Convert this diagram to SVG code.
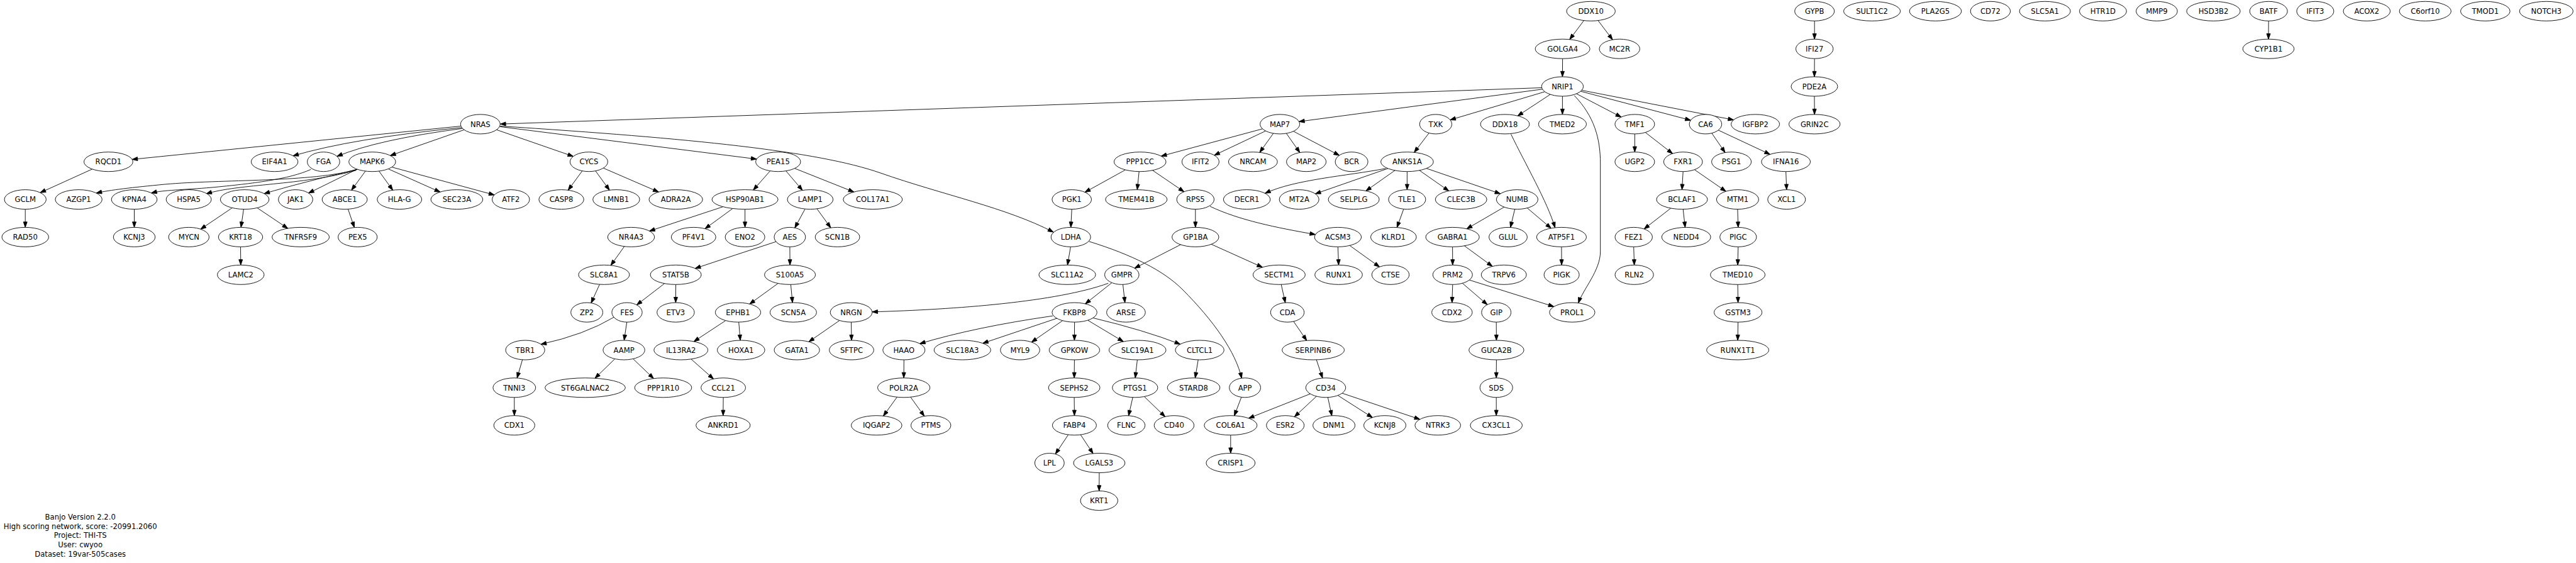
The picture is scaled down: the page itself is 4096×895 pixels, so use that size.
<svg xmlns="http://www.w3.org/2000/svg" width="4096" height="895" viewBox="0 0 4096 895">
<style>
.n{fill:#fff;stroke:#000;stroke-width:0.9}
text{font-family:"DejaVu Sans",sans-serif;font-size:11.6px;text-anchor:middle;fill:#000}
.e{fill:none;stroke:#000;stroke-width:0.9;marker-end:url(#a)}
</style>
<defs>
<marker id="a" markerUnits="userSpaceOnUse" markerWidth="10" markerHeight="8" refX="8.6" refY="3" orient="auto" overflow="visible">
<path d="M0,0 L8.6,3 L0,6 z" fill="#000" stroke="#000" stroke-width="0.9"/>
</marker>
</defs>
<rect width="4096" height="895" fill="#fff"/>
<g id="edges">
<path class="e" d="M2518.5,32.6 L2495.9,62.7"/>
<path class="e" d="M2541,32.6 L2564.1,63.1"/>
<path class="e" d="M2484.6,93.2 L2484.4,122"/>
<path class="e" d="M2451.1,139.5 L795.5,197.2"/>
<path class="e" d="M2452.5,141.8 L2065.5,193.3"/>
<path class="e" d="M2456.4,145.8 L2305.9,190.6"/>
<path class="e" d="M2465.1,150.1 L2413.2,184.2"/>
<path class="e" d="M2484.4,153 L2484.4,181.9"/>
<path class="e" d="M2506.6,149 L2577.8,186.1"/>
<path class="e" d="M2513.3,145.1 L2688.3,191.2"/>
<path class="e" d="M2515,143.5 L2756.5,190.6"/>
<path class="e" d="M2503.2,151.8 C2535,185 2544.7,220 2544.7,260 L2544.7,400 C2544.7,430 2517,460 2509.8,481.7"/>
<path class="e" d="M732.9,200.5 L210.1,253.4"/>
<path class="e" d="M734.3,202.8 Q560,220 466,247.7"/>
<path class="e" d="M735.5,204.2 Q600,222 535.9,248.6"/>
<path class="e" d="M738.1,206.3 L620.5,247.3"/>
<path class="e" d="M789.6,206.3 L911.5,248.6"/>
<path class="e" d="M794.3,201.3 L1203,252.9"/>
<path class="e" d="M795.7,200.5 C1100,220 1300,240 1400,275 C1500,310 1600,330 1675,369"/>
<path class="e" d="M146.7,268.8 L64,306.3"/>
<path class="e" d="M40.2,332.6 L40.2,361.4"/>
<path class="e" d="M566.5,269.3 C500,290 350,285 262,293 C210,298 175,302 153.1,306.9"/>
<path class="e" d="M494.3,269.3 C460,285 400,292 337,298 C290,302 260,302 240.6,306.8"/>
<path class="e" d="M566.5,270.7 C480,295 380,292 328,308"/>
<path class="e" d="M568.7,269.3 Q480,290 420,307.8"/>
<path class="e" d="M567.8,269 L490.6,307"/>
<path class="e" d="M581.1,272 L558.9,302.3"/>
<path class="e" d="M602.6,272 L624.5,302.3"/>
<path class="e" d="M617.3,268.5 L699.8,305.3"/>
<path class="e" d="M623.1,265.7 L786,309.9"/>
<path class="e" d="M213.5,332.6 L213.5,361.4"/>
<path class="e" d="M369.3,330.4 L319,364.3"/>
<path class="e" d="M387.4,332.6 L383.2,361.4"/>
<path class="e" d="M408.9,330.4 L457.6,363.1"/>
<path class="e" d="M382.5,392.4 L382.8,421.3"/>
<path class="e" d="M553.4,332.4 L563.4,361.6"/>
<path class="e" d="M925.8,271.7 L903.4,302.3"/>
<path class="e" d="M946.9,271.7 L969.1,302.3"/>
<path class="e" d="M959.4,267.2 L1047.2,305.2"/>
<path class="e" d="M1224.6,271.7 L1197.8,302.1"/>
<path class="e" d="M1249.7,271.7 L1275.9,302.5"/>
<path class="e" d="M1263.6,267.7 L1357.8,305.2"/>
<path class="e" d="M1149.6,328.7 L1032.6,367.3"/>
<path class="e" d="M1165,331.5 L1121,363.6"/>
<path class="e" d="M1184.6,332.6 L1184.6,361.4"/>
<path class="e" d="M1280.1,332.2 L1263.8,362.2"/>
<path class="e" d="M1299,331.9 L1320.9,362.1"/>
<path class="e" d="M992.8,391.7 L971.2,421.9"/>
<path class="e" d="M1233.9,384.2 Q1170,405 1105.3,426.7"/>
<path class="e" d="M1255.9,392.4 L1256.1,421.3"/>
<path class="e" d="M953.4,452.1 L939.9,481.7"/>
<path class="e" d="M1056.6,450.7 L1012.4,484.7"/>
<path class="e" d="M1074.6,452.3 L1074.4,481.1"/>
<path class="e" d="M1237.2,450.5 L1191.9,483.3"/>
<path class="e" d="M1257.4,452.3 L1260.1,481.1"/>
<path class="e" d="M976.1,504.3 Q930,532 860.1,547.3"/>
<path class="e" d="M996.7,512.1 L992.4,541"/>
<path class="e" d="M1153.8,509.6 L1103.3,542.9"/>
<path class="e" d="M1174.7,512.1 L1177.1,541"/>
<path class="e" d="M1334.9,509.5 L1286.1,543.3"/>
<path class="e" d="M1353.5,512.1 L1354,541"/>
<path class="e" d="M830.7,571.8 L822.2,600.9"/>
<path class="e" d="M817.8,631.8 L817.8,660.7"/>
<path class="e" d="M977.7,570.5 L946,601.3"/>
<path class="e" d="M1006.6,570.4 L1039.3,601.7"/>
<path class="e" d="M1098.9,570.8 L1134.5,602.4"/>
<path class="e" d="M1150.1,631.8 L1149.8,660.7"/>
<path class="e" d="M2007.5,204.8 L1846.3,248.2"/>
<path class="e" d="M2012.4,208.2 L1930.8,246.8"/>
<path class="e" d="M2024.7,212 L2003,242.3"/>
<path class="e" d="M2045.4,212.1 L2066.8,242.5"/>
<path class="e" d="M2056.6,208.7 L2129.6,247"/>
<path class="e" d="M1789.5,270 L1725.1,305.6"/>
<path class="e" d="M1811.2,272.7 L1808.3,301.6"/>
<path class="e" d="M1832.7,270.8 L1882.7,304.8"/>
<path class="e" d="M1704.2,332.6 L1702.7,361.4"/>
<path class="e" d="M1702.3,392.4 L1697.4,421.3"/>
<path class="e" d="M1731.5,383.8 C1800,405 1850,430 1880,460 C1930,510 1965,560 1974.3,601.3"/>
<path class="e" d="M1900.8,332.6 L1900.8,361.4"/>
<path class="e" d="M1924,328 C1970,350 2030,362 2091.5,372.8"/>
<path class="e" d="M1877.3,388.9 L1804.1,426.4"/>
<path class="e" d="M1926.1,388.3 L2007.4,424.9"/>
<path class="e" d="M1762.2,450.3 C1680,480 1520,492 1386.8,495.8"/>
<path class="e" d="M1768,449.4 L1725.7,483"/>
<path class="e" d="M1785.5,452.3 L1788.7,481.1"/>
<path class="e" d="M1673.8,502.2 Q1550,520 1462.5,546.3"/>
<path class="e" d="M1680.4,506.1 L1562.6,545.7"/>
<path class="e" d="M1689.6,509.7 L1640.2,543.9"/>
<path class="e" d="M1708.6,512.1 L1708.4,541"/>
<path class="e" d="M1729.6,509.1 L1786.2,543"/>
<path class="e" d="M1737.9,505.4 Q1820,525 1876.7,547.2"/>
<path class="e" d="M1437.3,572 L1437.1,600.8"/>
<path class="e" d="M1426.3,631.3 L1404.6,661.3"/>
<path class="e" d="M1447.9,631.3 L1469.7,661.6"/>
<path class="e" d="M1708.4,572 L1708.1,600.8"/>
<path class="e" d="M1708.1,631.8 L1708.4,660.7"/>
<path class="e" d="M1698.6,691.1 L1678.2,721.8"/>
<path class="e" d="M1718.2,691.1 L1738,721"/>
<path class="e" d="M1747.9,751.5 L1747.7,780.4"/>
<path class="e" d="M1808.4,572 L1805.1,600.8"/>
<path class="e" d="M1801.2,631.6 L1794.5,661"/>
<path class="e" d="M1819.5,630.5 L1852.6,662.4"/>
<path class="e" d="M1905.2,572 L1900.4,600.8"/>
<path class="e" d="M1973.9,631.4 L1962.6,660.9"/>
<path class="e" d="M2083.4,626.1 L1985.4,664.9"/>
<path class="e" d="M1956.8,691.7 L1956.8,720.5"/>
<path class="e" d="M2037.2,452.2 L2043.7,481.2"/>
<path class="e" d="M2056.9,511 L2077.7,541.3"/>
<path class="e" d="M2093.1,571.6 L2102.9,601"/>
<path class="e" d="M2093.3,630 L2058.3,662.6"/>
<path class="e" d="M2111.3,631.5 L2117.7,661"/>
<path class="e" d="M2127.3,628.6 L2182.3,663.7"/>
<path class="e" d="M2134.1,625.1 L2257.7,666.6"/>
<path class="e" d="M2272.2,211.5 L2248.7,242.3"/>
<path class="e" d="M2203.5,267.8 C2140,280 2060,285 2011.5,307.3"/>
<path class="e" d="M2207,267.8 L2091.4,308.1"/>
<path class="e" d="M2218,270.9 L2171.9,303.5"/>
<path class="e" d="M2237.4,272.7 L2237.4,301.6"/>
<path class="e" d="M2257,270.9 L2303.7,303.5"/>
<path class="e" d="M2268.1,267.7 L2385.7,308"/>
<path class="e" d="M2231.9,332.3 L2221.3,361.6"/>
<path class="e" d="M2127.4,392.4 L2128.5,421.3"/>
<path class="e" d="M2146.1,390.3 L2193.5,424.3"/>
<path class="e" d="M2391.7,329.2 L2332.2,363.8"/>
<path class="e" d="M2408.7,332.3 L2401.7,361.6"/>
<path class="e" d="M2428.4,330.7 L2466.3,362.8"/>
<path class="e" d="M2402.6,213.4 C2425,260 2460,320 2472.6,361.9"/>
<path class="e" d="M2482.9,392.4 L2483.1,421.3"/>
<path class="e" d="M2309.6,392.4 L2309.8,421.3"/>
<path class="e" d="M2328.5,390.8 L2373,423.4"/>
<path class="e" d="M2309.8,452.3 L2308.8,481.1"/>
<path class="e" d="M2325.4,450.3 L2364.9,484.3"/>
<path class="e" d="M2336.3,445.1 L2470.8,487.4"/>
<path class="e" d="M2379.2,512.1 L2379.4,541"/>
<path class="e" d="M2379.4,572 L2379.2,600.8"/>
<path class="e" d="M2379.2,631.8 L2379.2,660.7"/>
<path class="e" d="M2599.4,212.9 L2599.4,241.7"/>
<path class="e" d="M2616.2,210.5 L2659.5,244.2"/>
<path class="e" d="M2676.2,272.7 L2674.5,301.6"/>
<path class="e" d="M2694.3,269.7 L2744.3,304.2"/>
<path class="e" d="M2656.7,331 L2614.2,364"/>
<path class="e" d="M2676.2,332.6 L2679.5,361.4"/>
<path class="e" d="M2597.7,392.4 L2598.6,421.3"/>
<path class="e" d="M2762.9,332.6 L2763.8,361.4"/>
<path class="e" d="M2763.8,392.4 L2763.1,421.3"/>
<path class="e" d="M2763.1,452.3 L2763.6,481.1"/>
<path class="e" d="M2763.6,512.1 L2763.1,541"/>
<path class="e" d="M2721.8,211.7 L2743,242.5"/>
<path class="e" d="M2732.2,206.9 L2814.5,245.4"/>
<path class="e" d="M2839.7,272.7 L2840.8,301.6"/>
<path class="e" d="M2885.2,33.3 L2885.2,62.2"/>
<path class="e" d="M2885.2,93.2 L2885,122"/>
<path class="e" d="M2885,153 L2885.2,181.9"/>
<path class="e" d="M3607.2,33.3 L3607,62.2"/>
</g>
<g id="n-DDX10"><ellipse class="n" cx="2529.7" cy="17.8" rx="38.7" ry="15.5"/><text x="2529.7" y="22">DDX10</text></g>
<g id="n-GYPB"><ellipse class="n" cx="2885.2" cy="17.8" rx="31.5" ry="15.5"/><text x="2885.2" y="22">GYPB</text></g>
<g id="n-SULT1C2"><ellipse class="n" cx="2976.6" cy="17.8" rx="45.1" ry="15.5"/><text x="2976.6" y="22">SULT1C2</text></g>
<g id="n-PLA2G5"><ellipse class="n" cx="3077.5" cy="17.8" rx="41.3" ry="15.5"/><text x="3077.5" y="22">PLA2G5</text></g>
<g id="n-CD72"><ellipse class="n" cx="3164.9" cy="17.8" rx="31.7" ry="15.5"/><text x="3164.9" y="22">CD72</text></g>
<g id="n-SLC5A1"><ellipse class="n" cx="3251.6" cy="17.8" rx="40.5" ry="15.5"/><text x="3251.6" y="22">SLC5A1</text></g>
<g id="n-HTR1D"><ellipse class="n" cx="3343.9" cy="17.8" rx="37.4" ry="15.5"/><text x="3343.9" y="22">HTR1D</text></g>
<g id="n-MMP9"><ellipse class="n" cx="3429.4" cy="17.8" rx="32.8" ry="15.5"/><text x="3429.4" y="22">MMP9</text></g>
<g id="n-HSD3B2"><ellipse class="n" cx="3519.5" cy="17.8" rx="42.6" ry="15.5"/><text x="3519.5" y="22">HSD3B2</text></g>
<g id="n-BATF"><ellipse class="n" cx="3607.2" cy="17.8" rx="30" ry="15.5"/><text x="3607.2" y="22">BATF</text></g>
<g id="n-IFIT3"><ellipse class="n" cx="3681.4" cy="17.8" rx="29.5" ry="15.5"/><text x="3681.4" y="22">IFIT3</text></g>
<g id="n-ACOX2"><ellipse class="n" cx="3763.3" cy="17.8" rx="37.3" ry="15.5"/><text x="3763.3" y="22">ACOX2</text></g>
<g id="n-C6orf10"><ellipse class="n" cx="3856.3" cy="17.8" rx="41.1" ry="15.5"/><text x="3856.3" y="22">C6orf10</text></g>
<g id="n-TMOD1"><ellipse class="n" cx="3951.8" cy="17.8" rx="39.3" ry="15.5"/><text x="3951.8" y="22">TMOD1</text></g>
<g id="n-NOTCH3"><ellipse class="n" cx="4048.8" cy="17.8" rx="42.6" ry="15.5"/><text x="4048.8" y="22">NOTCH3</text></g>
<g id="n-GOLGA4"><ellipse class="n" cx="2484.6" cy="77.7" rx="43.5" ry="15.5"/><text x="2484.6" y="81.9">GOLGA4</text></g>
<g id="n-MC2R"><ellipse class="n" cx="2575.2" cy="77.7" rx="32.2" ry="15.5"/><text x="2575.2" y="81.9">MC2R</text></g>
<g id="n-IFI27"><ellipse class="n" cx="2885.2" cy="77.7" rx="29.7" ry="15.5"/><text x="2885.2" y="81.9">IFI27</text></g>
<g id="n-CYP1B1"><ellipse class="n" cx="3607" cy="77.7" rx="40.8" ry="15.5"/><text x="3607" y="81.9">CYP1B1</text></g>
<g id="n-NRIP1"><ellipse class="n" cx="2484.4" cy="137.5" rx="33.2" ry="15.5"/><text x="2484.4" y="141.7">NRIP1</text></g>
<g id="n-PDE2A"><ellipse class="n" cx="2885" cy="137.5" rx="37" ry="15.5"/><text x="2885" y="141.7">PDE2A</text></g>
<g id="n-NRAS"><ellipse class="n" cx="763.8" cy="197.4" rx="31.5" ry="15.5"/><text x="763.8" y="201.6">NRAS</text></g>
<g id="n-MAP7"><ellipse class="n" cx="2035.1" cy="197.4" rx="31.5" ry="15.5"/><text x="2035.1" y="201.6">MAP7</text></g>
<g id="n-TXK"><ellipse class="n" cx="2282.9" cy="197.4" rx="25.6" ry="15.5"/><text x="2282.9" y="201.6">TXK</text></g>
<g id="n-DDX18"><ellipse class="n" cx="2393" cy="197.4" rx="38.9" ry="15.5"/><text x="2393" y="201.6">DDX18</text></g>
<g id="n-TMED2"><ellipse class="n" cx="2484.4" cy="197.4" rx="38.1" ry="15.5"/><text x="2484.4" y="201.6">TMED2</text></g>
<g id="n-TMF1"><ellipse class="n" cx="2599.4" cy="197.4" rx="31.5" ry="15.5"/><text x="2599.4" y="201.6">TMF1</text></g>
<g id="n-CA6"><ellipse class="n" cx="2711.9" cy="197.4" rx="25.8" ry="15.5"/><text x="2711.9" y="201.6">CA6</text></g>
<g id="n-IGFBP2"><ellipse class="n" cx="2791.1" cy="197.4" rx="38.5" ry="15.5"/><text x="2791.1" y="201.6">IGFBP2</text></g>
<g id="n-GRIN2C"><ellipse class="n" cx="2885.2" cy="197.4" rx="40.7" ry="15.5"/><text x="2885.2" y="201.6">GRIN2C</text></g>
<g id="n-RQCD1"><ellipse class="n" cx="172.4" cy="257.2" rx="38.9" ry="15.5"/><text x="172.4" y="261.4">RQCD1</text></g>
<g id="n-EIF4A1"><ellipse class="n" cx="436.6" cy="257.2" rx="37.2" ry="15.5"/><text x="436.6" y="261.4">EIF4A1</text></g>
<g id="n-FGA"><ellipse class="n" cx="514.4" cy="257.2" rx="25.8" ry="15.5"/><text x="514.4" y="261.4">FGA</text></g>
<g id="n-MAPK6"><ellipse class="n" cx="591.9" cy="257.2" rx="37.2" ry="15.5"/><text x="591.9" y="261.4">MAPK6</text></g>
<g id="n-CYCS"><ellipse class="n" cx="936.4" cy="257.2" rx="30" ry="15.5"/><text x="936.4" y="261.4">CYCS</text></g>
<g id="n-PEA15"><ellipse class="n" cx="1237.3" cy="257.2" rx="35.7" ry="15.5"/><text x="1237.3" y="261.4">PEA15</text></g>
<g id="n-PPP1CC"><ellipse class="n" cx="1812.7" cy="257.2" rx="41.3" ry="15.5"/><text x="1812.7" y="261.4">PPP1CC</text></g>
<g id="n-IFIT2"><ellipse class="n" cx="1908.9" cy="257.2" rx="29.5" ry="15.5"/><text x="1908.9" y="261.4">IFIT2</text></g>
<g id="n-NRCAM"><ellipse class="n" cx="1992.3" cy="257.2" rx="38.9" ry="15.5"/><text x="1992.3" y="261.4">NRCAM</text></g>
<g id="n-MAP2"><ellipse class="n" cx="2077.1" cy="257.2" rx="31.5" ry="15.5"/><text x="2077.1" y="261.4">MAP2</text></g>
<g id="n-BCR"><ellipse class="n" cx="2149.1" cy="257.2" rx="26" ry="15.5"/><text x="2149.1" y="261.4">BCR</text></g>
<g id="n-ANKS1A"><ellipse class="n" cx="2237.4" cy="257.2" rx="41.8" ry="15.5"/><text x="2237.4" y="261.4">ANKS1A</text></g>
<g id="n-UGP2"><ellipse class="n" cx="2599.4" cy="257.2" rx="31.5" ry="15.5"/><text x="2599.4" y="261.4">UGP2</text></g>
<g id="n-FXR1"><ellipse class="n" cx="2676.2" cy="257.2" rx="30.8" ry="15.5"/><text x="2676.2" y="261.4">FXR1</text></g>
<g id="n-PSG1"><ellipse class="n" cx="2753.1" cy="257.2" rx="31.5" ry="15.5"/><text x="2753.1" y="261.4">PSG1</text></g>
<g id="n-IFNA16"><ellipse class="n" cx="2839.7" cy="257.2" rx="38.9" ry="15.5"/><text x="2839.7" y="261.4">IFNA16</text></g>
<g id="n-GCLM"><ellipse class="n" cx="40.2" cy="317.1" rx="33.2" ry="15.5"/><text x="40.2" y="321.3">GCLM</text></g>
<g id="n-AZGP1"><ellipse class="n" cx="125.1" cy="317.1" rx="37.2" ry="15.5"/><text x="125.1" y="321.3">AZGP1</text></g>
<g id="n-KPNA4"><ellipse class="n" cx="213.5" cy="317.1" rx="36.3" ry="15.5"/><text x="213.5" y="321.3">KPNA4</text></g>
<g id="n-HSPA5"><ellipse class="n" cx="300.1" cy="317.1" rx="35.9" ry="15.5"/><text x="300.1" y="321.3">HSPA5</text></g>
<g id="n-OTUD4"><ellipse class="n" cx="389.1" cy="317.1" rx="38.7" ry="15.5"/><text x="389.1" y="321.3">OTUD4</text></g>
<g id="n-JAK1"><ellipse class="n" cx="470" cy="317.1" rx="27.3" ry="15.5"/><text x="470" y="321.3">JAK1</text></g>
<g id="n-ABCE1"><ellipse class="n" cx="548.1" cy="317.1" rx="35.9" ry="15.5"/><text x="548.1" y="321.3">ABCE1</text></g>
<g id="n-HLA-G"><ellipse class="n" cx="635.2" cy="317.1" rx="35.4" ry="15.5"/><text x="635.2" y="321.3">HLA-G</text></g>
<g id="n-SEC23A"><ellipse class="n" cx="726.4" cy="317.1" rx="41.3" ry="15.5"/><text x="726.4" y="321.3">SEC23A</text></g>
<g id="n-ATF2"><ellipse class="n" cx="812.3" cy="317.1" rx="29.7" ry="15.5"/><text x="812.3" y="321.3">ATF2</text></g>
<g id="n-CASP8"><ellipse class="n" cx="892.6" cy="317.1" rx="35.7" ry="15.5"/><text x="892.6" y="321.3">CASP8</text></g>
<g id="n-LMNB1"><ellipse class="n" cx="979.9" cy="317.1" rx="37.2" ry="15.5"/><text x="979.9" y="321.3">LMNB1</text></g>
<g id="n-ADRA2A"><ellipse class="n" cx="1074.6" cy="317.1" rx="42.6" ry="15.5"/><text x="1074.6" y="321.3">ADRA2A</text></g>
<g id="n-HSP90AB1"><ellipse class="n" cx="1184.6" cy="317.1" rx="52.5" ry="15.5"/><text x="1184.6" y="321.3">HSP90AB1</text></g>
<g id="n-LAMP1"><ellipse class="n" cx="1288.3" cy="317.1" rx="36.3" ry="15.5"/><text x="1288.3" y="321.3">LAMP1</text></g>
<g id="n-COL17A1"><ellipse class="n" cx="1387.8" cy="317.1" rx="47" ry="15.5"/><text x="1387.8" y="321.3">COL17A1</text></g>
<g id="n-PGK1"><ellipse class="n" cx="1704.2" cy="317.1" rx="31.3" ry="15.5"/><text x="1704.2" y="321.3">PGK1</text></g>
<g id="n-TMEM41B"><ellipse class="n" cx="1806.8" cy="317.1" rx="49" ry="15.5"/><text x="1806.8" y="321.3">TMEM41B</text></g>
<g id="n-RPS5"><ellipse class="n" cx="1900.8" cy="317.1" rx="29.7" ry="15.5"/><text x="1900.8" y="321.3">RPS5</text></g>
<g id="n-DECR1"><ellipse class="n" cx="1982.6" cy="317.1" rx="37.2" ry="15.5"/><text x="1982.6" y="321.3">DECR1</text></g>
<g id="n-MT2A"><ellipse class="n" cx="2065.7" cy="317.1" rx="31.5" ry="15.5"/><text x="2065.7" y="321.3">MT2A</text></g>
<g id="n-SELPLG"><ellipse class="n" cx="2152.6" cy="317.1" rx="40.5" ry="15.5"/><text x="2152.6" y="321.3">SELPLG</text></g>
<g id="n-TLE1"><ellipse class="n" cx="2237.4" cy="317.1" rx="29.5" ry="15.5"/><text x="2237.4" y="321.3">TLE1</text></g>
<g id="n-CLEC3B"><ellipse class="n" cx="2323.2" cy="317.1" rx="40.9" ry="15.5"/><text x="2323.2" y="321.3">CLEC3B</text></g>
<g id="n-NUMB"><ellipse class="n" cx="2412.4" cy="317.1" rx="33" ry="15.5"/><text x="2412.4" y="321.3">NUMB</text></g>
<g id="n-BCLAF1"><ellipse class="n" cx="2674.5" cy="317.1" rx="40.5" ry="15.5"/><text x="2674.5" y="321.3">BCLAF1</text></g>
<g id="n-MTM1"><ellipse class="n" cx="2762.9" cy="317.1" rx="33.5" ry="15.5"/><text x="2762.9" y="321.3">MTM1</text></g>
<g id="n-XCL1"><ellipse class="n" cx="2840.8" cy="317.1" rx="30" ry="15.5"/><text x="2840.8" y="321.3">XCL1</text></g>
<g id="n-RAD50"><ellipse class="n" cx="40.2" cy="376.9" rx="37.2" ry="15.5"/><text x="40.2" y="381.1">RAD50</text></g>
<g id="n-KCNJ3"><ellipse class="n" cx="213.5" cy="376.9" rx="33.2" ry="15.5"/><text x="213.5" y="381.1">KCNJ3</text></g>
<g id="n-MYCN"><ellipse class="n" cx="300.3" cy="376.9" rx="32.2" ry="15.5"/><text x="300.3" y="381.1">MYCN</text></g>
<g id="n-KRT18"><ellipse class="n" cx="382.5" cy="376.9" rx="35.2" ry="15.5"/><text x="382.5" y="381.1">KRT18</text></g>
<g id="n-TNFRSF9"><ellipse class="n" cx="478.1" cy="376.9" rx="45.5" ry="15.5"/><text x="478.1" y="381.1">TNFRSF9</text></g>
<g id="n-PEX5"><ellipse class="n" cx="568.7" cy="376.9" rx="31.1" ry="15.5"/><text x="568.7" y="381.1">PEX5</text></g>
<g id="n-NR4A3"><ellipse class="n" cx="1003.5" cy="376.9" rx="37.2" ry="15.5"/><text x="1003.5" y="381.1">NR4A3</text></g>
<g id="n-PF4V1"><ellipse class="n" cx="1102.8" cy="376.9" rx="35.4" ry="15.5"/><text x="1102.8" y="381.1">PF4V1</text></g>
<g id="n-ENO2"><ellipse class="n" cx="1184.6" cy="376.9" rx="31.5" ry="15.5"/><text x="1184.6" y="381.1">ENO2</text></g>
<g id="n-AES"><ellipse class="n" cx="1255.9" cy="376.9" rx="24.9" ry="15.5"/><text x="1255.9" y="381.1">AES</text></g>
<g id="n-SCN1B"><ellipse class="n" cx="1331.6" cy="376.9" rx="35.4" ry="15.5"/><text x="1331.6" y="381.1">SCN1B</text></g>
<g id="n-LDHA"><ellipse class="n" cx="1702.7" cy="376.9" rx="31.5" ry="15.5"/><text x="1702.7" y="381.1">LDHA</text></g>
<g id="n-GP1BA"><ellipse class="n" cx="1900.8" cy="376.9" rx="37.2" ry="15.5"/><text x="1900.8" y="381.1">GP1BA</text></g>
<g id="n-ACSM3"><ellipse class="n" cx="2127.4" cy="376.9" rx="37.2" ry="15.5"/><text x="2127.4" y="381.1">ACSM3</text></g>
<g id="n-KLRD1"><ellipse class="n" cx="2215.8" cy="376.9" rx="36.3" ry="15.5"/><text x="2215.8" y="381.1">KLRD1</text></g>
<g id="n-GABRA1"><ellipse class="n" cx="2309.6" cy="376.9" rx="42.6" ry="15.5"/><text x="2309.6" y="381.1">GABRA1</text></g>
<g id="n-GLUL"><ellipse class="n" cx="2398" cy="376.9" rx="30.4" ry="15.5"/><text x="2398" y="381.1">GLUL</text></g>
<g id="n-ATP5F1"><ellipse class="n" cx="2482.9" cy="376.9" rx="39.6" ry="15.5"/><text x="2482.9" y="381.1">ATP5F1</text></g>
<g id="n-FEZ1"><ellipse class="n" cx="2597.7" cy="376.9" rx="29.7" ry="15.5"/><text x="2597.7" y="381.1">FEZ1</text></g>
<g id="n-NEDD4"><ellipse class="n" cx="2681.2" cy="376.9" rx="38.9" ry="15.5"/><text x="2681.2" y="381.1">NEDD4</text></g>
<g id="n-PIGC"><ellipse class="n" cx="2763.8" cy="376.9" rx="29.1" ry="15.5"/><text x="2763.8" y="381.1">PIGC</text></g>
<g id="n-LAMC2"><ellipse class="n" cx="382.8" cy="436.8" rx="37.2" ry="15.5"/><text x="382.8" y="441">LAMC2</text></g>
<g id="n-SLC8A1"><ellipse class="n" cx="960.4" cy="436.8" rx="40.5" ry="15.5"/><text x="960.4" y="441">SLC8A1</text></g>
<g id="n-STAT5B"><ellipse class="n" cx="1074.6" cy="436.8" rx="40.5" ry="15.5"/><text x="1074.6" y="441">STAT5B</text></g>
<g id="n-S100A5"><ellipse class="n" cx="1256.1" cy="436.8" rx="40.5" ry="15.5"/><text x="1256.1" y="441">S100A5</text></g>
<g id="n-SLC11A2"><ellipse class="n" cx="1697" cy="436.8" rx="45.1" ry="15.5"/><text x="1697" y="441">SLC11A2</text></g>
<g id="n-GMPR"><ellipse class="n" cx="1783.8" cy="436.8" rx="27.3" ry="15.5"/><text x="1783.8" y="441">GMPR</text></g>
<g id="n-SECTM1"><ellipse class="n" cx="2033.9" cy="436.8" rx="41.5" ry="15.5"/><text x="2033.9" y="441">SECTM1</text></g>
<g id="n-RUNX1"><ellipse class="n" cx="2128.5" cy="436.8" rx="37.8" ry="15.5"/><text x="2128.5" y="441">RUNX1</text></g>
<g id="n-CTSE"><ellipse class="n" cx="2211" cy="436.8" rx="29.7" ry="15.5"/><text x="2211" y="441">CTSE</text></g>
<g id="n-PRM2"><ellipse class="n" cx="2309.8" cy="436.8" rx="31.5" ry="15.5"/><text x="2309.8" y="441">PRM2</text></g>
<g id="n-TRPV6"><ellipse class="n" cx="2391.2" cy="436.8" rx="35.9" ry="15.5"/><text x="2391.2" y="441">TRPV6</text></g>
<g id="n-PIGK"><ellipse class="n" cx="2483.1" cy="436.8" rx="28" ry="15.5"/><text x="2483.1" y="441">PIGK</text></g>
<g id="n-RLN2"><ellipse class="n" cx="2598.6" cy="436.8" rx="30.6" ry="15.5"/><text x="2598.6" y="441">RLN2</text></g>
<g id="n-TMED10"><ellipse class="n" cx="2763.1" cy="436.8" rx="43.5" ry="15.5"/><text x="2763.1" y="441">TMED10</text></g>
<g id="n-ZP2"><ellipse class="n" cx="933.1" cy="496.6" rx="25.4" ry="15.5"/><text x="933.1" y="500.8">ZP2</text></g>
<g id="n-FES"><ellipse class="n" cx="997" cy="496.6" rx="24.1" ry="15.5"/><text x="997" y="500.8">FES</text></g>
<g id="n-ETV3"><ellipse class="n" cx="1074.4" cy="496.6" rx="29.7" ry="15.5"/><text x="1074.4" y="500.8">ETV3</text></g>
<g id="n-EPHB1"><ellipse class="n" cx="1173.5" cy="496.6" rx="36.1" ry="15.5"/><text x="1173.5" y="500.8">EPHB1</text></g>
<g id="n-SCN5A"><ellipse class="n" cx="1261.4" cy="496.6" rx="37" ry="15.5"/><text x="1261.4" y="500.8">SCN5A</text></g>
<g id="n-NRGN"><ellipse class="n" cx="1353.5" cy="496.6" rx="33.3" ry="15.5"/><text x="1353.5" y="500.8">NRGN</text></g>
<g id="n-FKBP8"><ellipse class="n" cx="1708.6" cy="496.6" rx="35.7" ry="15.5"/><text x="1708.6" y="500.8">FKBP8</text></g>
<g id="n-ARSE"><ellipse class="n" cx="1790.4" cy="496.6" rx="30.8" ry="15.5"/><text x="1790.4" y="500.8">ARSE</text></g>
<g id="n-CDA"><ellipse class="n" cx="2047" cy="496.6" rx="26.7" ry="15.5"/><text x="2047" y="500.8">CDA</text></g>
<g id="n-CDX2"><ellipse class="n" cx="2308.8" cy="496.6" rx="32.2" ry="15.5"/><text x="2308.8" y="500.8">CDX2</text></g>
<g id="n-GIP"><ellipse class="n" cx="2379.2" cy="496.6" rx="23.4" ry="15.5"/><text x="2379.2" y="500.8">GIP</text></g>
<g id="n-PROL1"><ellipse class="n" cx="2499.9" cy="496.6" rx="36.1" ry="15.5"/><text x="2499.9" y="500.8">PROL1</text></g>
<g id="n-GSTM3"><ellipse class="n" cx="2763.6" cy="496.6" rx="38.1" ry="15.5"/><text x="2763.6" y="500.8">GSTM3</text></g>
<g id="n-TBR1"><ellipse class="n" cx="835.1" cy="556.5" rx="31.1" ry="15.5"/><text x="835.1" y="560.7">TBR1</text></g>
<g id="n-AAMP"><ellipse class="n" cx="992.1" cy="556.5" rx="33.2" ry="15.5"/><text x="992.1" y="560.7">AAMP</text></g>
<g id="n-IL13RA2"><ellipse class="n" cx="1082.7" cy="556.5" rx="42.9" ry="15.5"/><text x="1082.7" y="560.7">IL13RA2</text></g>
<g id="n-HOXA1"><ellipse class="n" cx="1178.3" cy="556.5" rx="37.8" ry="15.5"/><text x="1178.3" y="560.7">HOXA1</text></g>
<g id="n-GATA1"><ellipse class="n" cx="1267.1" cy="556.5" rx="36.1" ry="15.5"/><text x="1267.1" y="560.7">GATA1</text></g>
<g id="n-SFTPC"><ellipse class="n" cx="1354" cy="556.5" rx="35.4" ry="15.5"/><text x="1354" y="560.7">SFTPC</text></g>
<g id="n-HAAO"><ellipse class="n" cx="1437.3" cy="556.5" rx="33.5" ry="15.5"/><text x="1437.3" y="560.7">HAAO</text></g>
<g id="n-SLC18A3"><ellipse class="n" cx="1530.3" cy="556.5" rx="45.1" ry="15.5"/><text x="1530.3" y="560.7">SLC18A3</text></g>
<g id="n-MYL9"><ellipse class="n" cx="1622" cy="556.5" rx="31.3" ry="15.5"/><text x="1622" y="560.7">MYL9</text></g>
<g id="n-GPKOW"><ellipse class="n" cx="1708.4" cy="556.5" rx="40.2" ry="15.5"/><text x="1708.4" y="560.7">GPKOW</text></g>
<g id="n-SLC19A1"><ellipse class="n" cx="1808.7" cy="556.5" rx="45.3" ry="15.5"/><text x="1808.7" y="560.7">SLC19A1</text></g>
<g id="n-CLTCL1"><ellipse class="n" cx="1907.6" cy="556.5" rx="38.7" ry="15.5"/><text x="1907.6" y="560.7">CLTCL1</text></g>
<g id="n-SERPINB6"><ellipse class="n" cx="2088.1" cy="556.5" rx="49.5" ry="15.5"/><text x="2088.1" y="560.7">SERPINB6</text></g>
<g id="n-GUCA2B"><ellipse class="n" cx="2379.4" cy="556.5" rx="43.7" ry="15.5"/><text x="2379.4" y="560.7">GUCA2B</text></g>
<g id="n-RUNX1T1"><ellipse class="n" cx="2763.1" cy="556.5" rx="49.5" ry="15.5"/><text x="2763.1" y="560.7">RUNX1T1</text></g>
<g id="n-TNNI3"><ellipse class="n" cx="817.8" cy="616.3" rx="33.9" ry="15.5"/><text x="817.8" y="620.5">TNNI3</text></g>
<g id="n-ST6GALNAC2"><ellipse class="n" cx="930.5" cy="616.3" rx="63.9" ry="15.5"/><text x="930.5" y="620.5">ST6GALNAC2</text></g>
<g id="n-PPP1R10"><ellipse class="n" cx="1054.5" cy="616.3" rx="45.3" ry="15.5"/><text x="1054.5" y="620.5">PPP1R10</text></g>
<g id="n-CCL21"><ellipse class="n" cx="1150.1" cy="616.3" rx="35.4" ry="15.5"/><text x="1150.1" y="620.5">CCL21</text></g>
<g id="n-POLR2A"><ellipse class="n" cx="1437.1" cy="616.3" rx="41.6" ry="15.5"/><text x="1437.1" y="620.5">POLR2A</text></g>
<g id="n-SEPHS2"><ellipse class="n" cx="1708.1" cy="616.3" rx="40.9" ry="15.5"/><text x="1708.1" y="620.5">SEPHS2</text></g>
<g id="n-PTGS1"><ellipse class="n" cx="1804.8" cy="616.3" rx="36.1" ry="15.5"/><text x="1804.8" y="620.5">PTGS1</text></g>
<g id="n-STARD8"><ellipse class="n" cx="1898" cy="616.3" rx="41.8" ry="15.5"/><text x="1898" y="620.5">STARD8</text></g>
<g id="n-APP"><ellipse class="n" cx="1979.6" cy="616.3" rx="24.9" ry="15.5"/><text x="1979.6" y="620.5">APP</text></g>
<g id="n-CD34"><ellipse class="n" cx="2108" cy="616.3" rx="31.7" ry="15.5"/><text x="2108" y="620.5">CD34</text></g>
<g id="n-SDS"><ellipse class="n" cx="2379.2" cy="616.3" rx="26" ry="15.5"/><text x="2379.2" y="620.5">SDS</text></g>
<g id="n-CDX1"><ellipse class="n" cx="817.8" cy="676.2" rx="32.6" ry="15.5"/><text x="817.8" y="680.4">CDX1</text></g>
<g id="n-ANKRD1"><ellipse class="n" cx="1149.8" cy="676.2" rx="43.1" ry="15.5"/><text x="1149.8" y="680.4">ANKRD1</text></g>
<g id="n-IQGAP2"><ellipse class="n" cx="1393.8" cy="676.2" rx="40.3" ry="15.5"/><text x="1393.8" y="680.4">IQGAP2</text></g>
<g id="n-PTMS"><ellipse class="n" cx="1480.2" cy="676.2" rx="31.7" ry="15.5"/><text x="1480.2" y="680.4">PTMS</text></g>
<g id="n-FABP4"><ellipse class="n" cx="1708.4" cy="676.2" rx="35" ry="15.5"/><text x="1708.4" y="680.4">FABP4</text></g>
<g id="n-FLNC"><ellipse class="n" cx="1791" cy="676.2" rx="29.7" ry="15.5"/><text x="1791" y="680.4">FLNC</text></g>
<g id="n-CD40"><ellipse class="n" cx="1866.9" cy="676.2" rx="31.7" ry="15.5"/><text x="1866.9" y="680.4">CD40</text></g>
<g id="n-COL6A1"><ellipse class="n" cx="1956.8" cy="676.2" rx="42" ry="15.5"/><text x="1956.8" y="680.4">COL6A1</text></g>
<g id="n-ESR2"><ellipse class="n" cx="2043.7" cy="676.2" rx="30" ry="15.5"/><text x="2043.7" y="680.4">ESR2</text></g>
<g id="n-DNM1"><ellipse class="n" cx="2121.1" cy="676.2" rx="33.5" ry="15.5"/><text x="2121.1" y="680.4">DNM1</text></g>
<g id="n-KCNJ8"><ellipse class="n" cx="2202" cy="676.2" rx="33.5" ry="15.5"/><text x="2202" y="680.4">KCNJ8</text></g>
<g id="n-NTRK3"><ellipse class="n" cx="2286.2" cy="676.2" rx="36.3" ry="15.5"/><text x="2286.2" y="680.4">NTRK3</text></g>
<g id="n-CX3CL1"><ellipse class="n" cx="2379.2" cy="676.2" rx="41.3" ry="15.5"/><text x="2379.2" y="680.4">CX3CL1</text></g>
<g id="n-LPL"><ellipse class="n" cx="1668.8" cy="736" rx="23.4" ry="15.5"/><text x="1668.8" y="740.2">LPL</text></g>
<g id="n-LGALS3"><ellipse class="n" cx="1747.9" cy="736" rx="40.9" ry="15.5"/><text x="1747.9" y="740.2">LGALS3</text></g>
<g id="n-CRISP1"><ellipse class="n" cx="1956.8" cy="736" rx="38.9" ry="15.5"/><text x="1956.8" y="740.2">CRISP1</text></g>
<g id="n-KRT1"><ellipse class="n" cx="1747.7" cy="795.9" rx="29.7" ry="15.5"/><text x="1747.7" y="800.1">KRT1</text></g>
<g id="caption">
<text x="127.7" y="826">Banjo Version 2.2.0</text>
<text x="127.7" y="840.8">High scoring network, score: -20991.2060</text>
<text x="127.7" y="855.4">Project: THI-TS</text>
<text x="127.7" y="870.1">User: cwyoo</text>
<text x="127.7" y="884.8">Dataset: 19var-505cases</text>
</g>
</svg>
